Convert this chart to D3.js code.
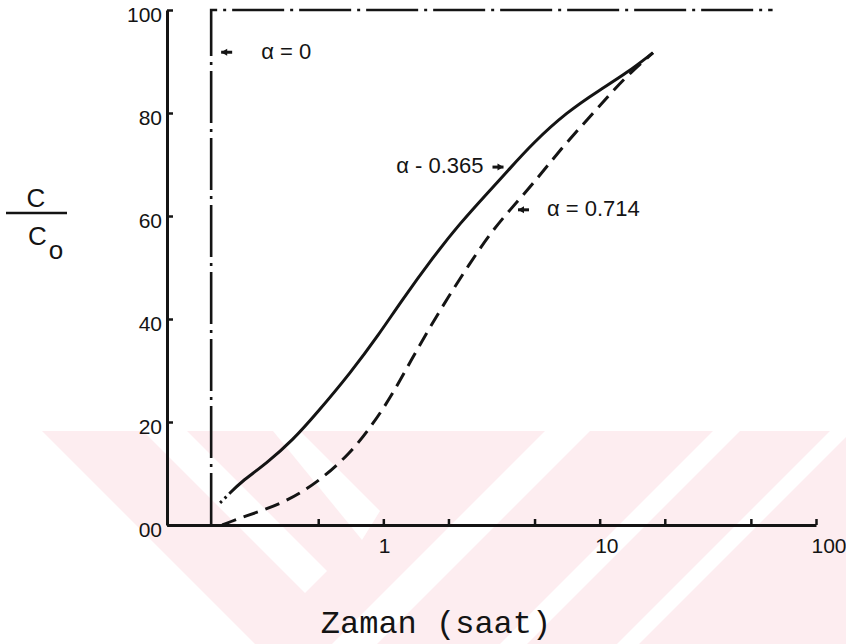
<!DOCTYPE html>
<html>
<head>
<meta charset="utf-8">
<script src="https://cdn.jsdelivr.net/npm/d3@7"></script>
<style>
  html, body { margin: 0; padding: 0; background: #ffffff; }
  svg { display: block; }
</style>
</head>
<body>
<svg id="chart" width="846" height="644"></svg>
<script>
// Relative concentration C/C0 against time (hours, log axis) for three alpha values

const xTicks = [0.5, 1, 2, 5, 10, 20, 50, 100];
const xTickLabels = { 1: "1", 10: "10", 100: "100" };
const yTicks = [0, 20, 40, 60, 80, 100];
const yTickLabels = ["00", "20", "40", "60", "80", "100"];

// alpha = 0 : step response
const alpha0Time  = [0.16, 0.16, 63];
const alpha0Value = [0, 100, 100];

// alpha = 0.365 : solid curve
const alpha365Time  = [0.176, 0.1955, 0.2175, 0.289, 0.382, 0.492, 0.704, 0.965, 1.194, 1.697,
                       2.262, 3.112, 3.73, 4.92, 7.06, 10.03, 13.38, 17.64];
const alpha365Value = [4.3, 6.2, 8.2, 12.0, 16.5, 21.7, 29.5, 37.3, 43.1, 52.0,
                       58.6, 65.0, 68.6, 74.2, 80.2, 84.5, 87.8, 91.7];

// alpha = 0.714 : dashed curve
const alpha714Time  = [0.18, 0.2253, 0.345, 0.492, 0.704, 0.899, 1.112, 1.427, 1.828, 2.343,
                       3.112, 3.85, 4.935, 6.55, 9.02, 11.98, 13.8, 17.64];
const alpha714Value = [0, 1.6, 4.2, 8.1, 13.9, 19.7, 25.6, 34.0, 41.7, 48.9,
                       56.6, 61.2, 66.3, 72.8, 79.3, 85.1, 87.7, 91.7];

const svg = d3.select("#chart");
const ink = "#141414";

// faint background stamp
const pts = p => p.map(q => q.join(",")).join(" ");
svg.append("polygon").attr("fill", "#fdedf0")
  .attr("points", pts([[42,431],[846,431],[846,644],[255,644]]));
const stampGaps = [
  [[143,431],[187,431],[327,571],[305,593]],
  [[273,431],[300,431],[380,511],[362,540]],
  [[545,431],[590,431],[377,644],[332,644]],
  [[713,431],[740,431],[527,644],[500,644]],
  [[830,431],[846,431],[846,437],[639,644],[617,644]]
];
stampGaps.forEach(p => svg.append("polygon").attr("fill", "#ffffff").attr("points", pts(p)));

const x = d3.scaleLog().domain([0.1, 100]).range([167, 816]);
const y = d3.scaleLinear().domain([0, 100]).range([525, 10]);

// axes
const xAxis = d3.axisBottom(x)
  .tickValues(xTicks)
  .tickSizeInner(-6)
  .tickSizeOuter(0)
  .tickPadding(13)
  .tickFormat(d => xTickLabels[d] || "");

const yAxis = d3.axisLeft(y)
  .tickValues(yTicks)
  .tickSizeInner(-6)
  .tickSizeOuter(0)
  .tickPadding(5)
  .tickFormat((d, i) => yTickLabels[i]);

const gx = svg.append("g").attr("transform", `translate(0,${y(0)})`).call(xAxis);
const gy = svg.append("g").attr("transform", `translate(${x(0.1)},0)`).call(yAxis);

[gx, gy].forEach(g => {
  g.select(".domain").attr("stroke", ink).attr("stroke-width", 3);
  g.selectAll(".tick line").attr("stroke", ink).attr("stroke-width", 2.5);
  g.selectAll(".tick text")
    .attr("fill", ink)
    .style("font-family", "'Liberation Sans', Arial, sans-serif")
    .style("font-size", "21px");
});
gx.selectAll(".tick text").attr("text-anchor", "start").attr("dx", -5);
gy.selectAll(".tick text").attr("dy", "0.55em");

// curves
const toPoints = (ts, vs) => ts.map((t, i) => [t, vs[i]]);

const stepLine = d3.line().x(d => x(d[0])).y(d => y(d[1]));
const smoothLine = d3.line().x(d => x(d[0])).y(d => y(d[1])).curve(d3.curveBasis);

svg.append("path")
  .datum(toPoints(alpha0Time, alpha0Value))
  .attr("d", stepLine)
  .attr("fill", "none")
  .attr("stroke", ink)
  .attr("stroke-width", 2.6)
  .attr("stroke-dasharray", "52,6,3,6");

// solid curve: a short dotted lead-in, then continuous
svg.append("path")
  .datum(toPoints(alpha365Time, alpha365Value))
  .attr("d", smoothLine)
  .attr("fill", "none")
  .attr("stroke", ink)
  .attr("stroke-width", 3)
  .attr("stroke-dasharray", "2.5,4,2.5,4,5000");

svg.append("path")
  .datum(toPoints(alpha714Time, alpha714Value))
  .attr("d", smoothLine)
  .attr("fill", "none")
  .attr("stroke", ink)
  .attr("stroke-width", 3)
  .attr("stroke-dasharray", "15,8");

// annotations: short pointer + label
function pointer(tipX, tipY, dir) {
  const len = 11;
  svg.append("line")
    .attr("x1", tipX).attr("y1", tipY)
    .attr("x2", tipX + dir * len).attr("y2", tipY)
    .attr("stroke", ink).attr("stroke-width", 3);
  svg.append("path")
    .attr("d", `M${tipX},${tipY} L${tipX + dir * 6},${tipY - 3.5} L${tipX + dir * 6},${tipY + 3.5} Z`)
    .attr("fill", ink);
}

const labelFont = "'Liberation Sans', Arial, sans-serif";
function label(px, py, txt, anchor) {
  svg.append("text")
    .attr("x", px).attr("y", py)
    .attr("text-anchor", anchor || "start")
    .attr("fill", ink)
    .style("font-family", labelFont)
    .style("font-size", "22px")
    .text(txt);
}

pointer(x(0.16) + 10, y(91.8), 1);
label(x(0.16) + 50, y(91.8) + 7, "α = 0");

pointer(x(3.67) - 2, y(69.5), -1);
label(x(3.67) - 22, y(69.5) + 6, "α - 0.365", "end");

pointer(x(3.85) + 8, y(61.2), 1);
label(x(3.85) + 37, y(61.2) + 6, "α = 0.714");

// y-axis title as a fraction C / Co
const yt = svg.append("g").style("font-family", labelFont).attr("fill", ink);
yt.append("text").attr("x", 36).attr("y", 207).attr("text-anchor", "middle")
  .style("font-size", "26px").style("font-weight", "300").text("C");
yt.append("line").attr("x1", 6).attr("x2", 67).attr("y1", 213).attr("y2", 213)
  .attr("stroke", ink).attr("stroke-width", 2.5);
const co = yt.append("text").attr("x", 28).attr("y", 245).style("font-size", "26px");
co.append("tspan").text("C");
co.append("tspan").attr("dx", 2).attr("dy", 14).text("o");

// x-axis title
svg.append("text")
  .attr("x", 436).attr("y", 633)
  .attr("text-anchor", "middle")
  .attr("fill", ink)
  .style("font-family", "'Liberation Mono', 'Courier New', monospace")
  .style("font-size", "32px")
  .text("Zaman (saat)");
</script>
</body>
</html>
